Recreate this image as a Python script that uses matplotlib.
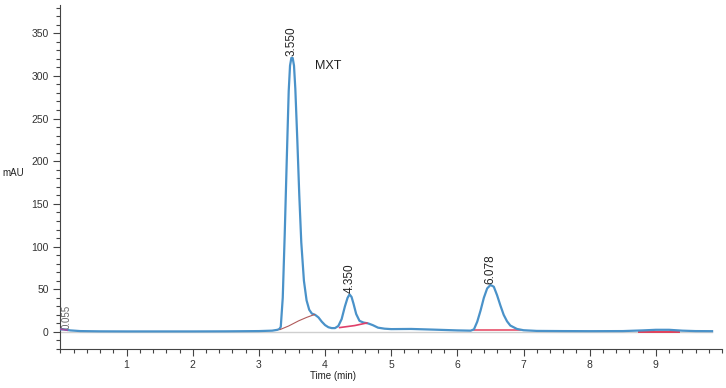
import matplotlib
matplotlib.use("Agg")
import matplotlib.pyplot as plt
from matplotlib.ticker import MultipleLocator

plt.rcParams['font.family'] = ['Liberation Sans', 'DejaVu Sans']

# Chromatogram signal
time_min = [0.0, 0.05, 0.15, 0.3, 0.6, 1.0, 1.5, 2.0, 2.5, 3.0, 3.2, 3.28, 3.31,
            3.33, 3.36, 3.39, 3.42, 3.45, 3.47, 3.49, 3.51, 3.53, 3.55, 3.58,
            3.61, 3.64, 3.68, 3.72, 3.76, 3.8, 3.85, 3.9, 3.95, 4.0, 4.05, 4.1,
            4.15, 4.2, 4.25, 4.3, 4.34, 4.37, 4.4, 4.43, 4.47, 4.52, 4.58, 4.65,
            4.72, 4.8, 4.9, 5.0, 5.3, 5.6, 6.0, 6.2, 6.25, 6.3, 6.35, 6.4, 6.45,
            6.5, 6.55, 6.6, 6.65, 6.7, 6.75, 6.8, 6.9, 7.0, 7.2, 7.6, 8.0, 8.5,
            8.8, 9.0, 9.2, 9.4, 9.6, 9.85]
signal_mau = [3.0, 3.0, 1.8, 1.0, 0.7, 0.6, 0.6, 0.6, 0.7, 1.0, 1.5, 2.5, 3.5,
              6.0, 40.0, 115.0, 200.0, 282.0, 312.0, 321.0, 321.0, 312.0, 285.0,
              225.0, 160.0, 105.0, 60.0, 37.0, 26.0, 21.5, 20.0, 17.0, 12.0, 8.0,
              5.5, 4.5, 4.5, 7.0, 15.0, 30.0, 40.0, 44.0, 41.0, 33.0, 21.0, 13.0,
              11.0, 10.0, 8.0, 5.0, 3.8, 3.3, 3.5, 2.8, 1.8, 1.5, 3.0, 12.0, 25.0,
              40.0, 51.0, 55.0, 53.0, 43.0, 31.0, 20.0, 12.5, 7.5, 3.5, 2.0, 1.2,
              1.0, 0.9, 1.0, 1.8, 2.5, 2.5, 1.5, 1.0, 0.9]

# Integration baselines
base1_t = [3.32, 3.45, 3.6, 3.72, 3.84]
base1_y = [2.8, 7.0, 13.0, 17.0, 20.4]
base2_t = [4.22, 4.45, 4.63]
base2_y = [5.1, 7.5, 10.5]
base3_t = [6.25, 6.95]
base3_y = [1.8, 1.8]
base4_t = [8.75, 9.35]
base4_y = [0.3, 0.3]
base0_t = [0.0, 0.1]
base0_y = [3.2, 2.0]

# Peak labels
peak_labels = ["3.550", "4.350", "6.078"]
peak_t = [3.5, 4.37, 6.5]
peak_h = [322.0, 44.0, 55.0]

fig = plt.figure(figsize=(7.26, 3.88), dpi=100)
ax = fig.add_axes([0.0833, 0.1005, 0.9112, 0.8865])

blue = '#4a92c9'
ax.axhline(0, xmin=0, xmax=0.985, color='#cfcfcf', lw=1.0, zorder=1)
ax.plot(time_min, signal_mau, color=blue, lw=1.6, zorder=3, solid_joinstyle='round')
ax.plot(base1_t, base1_y, color='#b05a5a', lw=0.8, zorder=4)
ax.plot(base2_t, base2_y, color='#e0406a', lw=1.2, zorder=4)
ax.plot(base3_t, base3_y, color='#e8506a', lw=1.2, zorder=2)
ax.plot(base4_t, base4_y, color='#e0405a', lw=1.4, zorder=2)
ax.plot(base0_t, base0_y, color='#a050a0', lw=1.2, zorder=4)

for lab, t, h in zip(peak_labels, peak_t, peak_h):
    ax.annotate(lab, xy=(t, h), xytext=(0, 1), textcoords='offset points',
                rotation=90, ha='center', va='bottom', fontsize=8.5, color='#222222')
ax.text(0.1, 4, "0.055", rotation=90, ha='center', va='bottom', fontsize=7, color='#666666')
ax.text(3.85, 312, "MXT", ha='left', va='center', fontsize=9, color='#222222')

ax.set_xlim(0, 10)
ax.set_ylim(-20, 383)
ax.spines['top'].set_visible(False)
ax.spines['right'].set_visible(False)
ax.spines['left'].set_color('#444444')
ax.spines['bottom'].set_color('#444444')
ax.spines['left'].set_bounds(-20, 383)

ax.set_xticks([1, 2, 3, 4, 5, 6, 7, 8, 9])
ax.xaxis.set_minor_locator(MultipleLocator(0.2))
ax.set_yticks([0, 50, 100, 150, 200, 250, 300, 350])
ax.yaxis.set_minor_locator(MultipleLocator(10))
ax.tick_params(axis='both', which='major', labelsize=7.5, colors='#444444', labelcolor='#333333',
               length=5, width=0.8)
ax.tick_params(axis='both', which='minor', colors='#444444', length=3, width=0.8)
ax.tick_params(axis='x', which='major', pad=3)

fig.text(0.018, 0.555, "mAU", fontsize=7, color='#222222', ha='center', va='center')
fig.text(0.459, 0.018, "Time (min)", fontsize=7, color='#222222', ha='center', va='bottom')

fig.savefig("out.png", dpi=100)
